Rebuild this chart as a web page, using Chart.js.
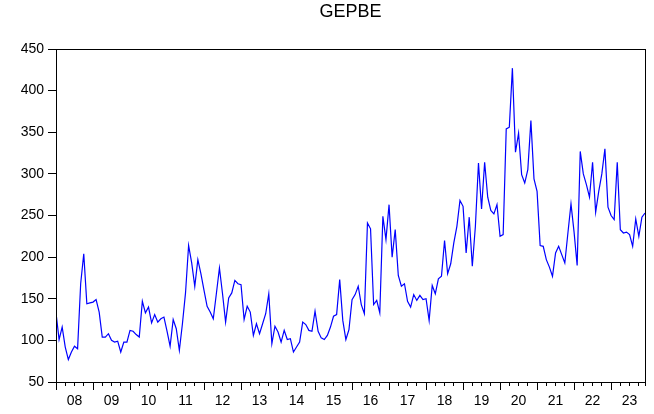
<!DOCTYPE html>
<html>
<head>
<meta charset="utf-8">
<script src="https://cdn.jsdelivr.net/npm/chart.js@4"></script>
<style>
  html, body { margin: 0; padding: 0; background: #fff; }
  #wrap { width: 654px; height: 414px; }
</style>
</head>
<body>
<div id="wrap"><canvas id="gepbe" width="654" height="414"></canvas></div>
<script>
// Monthly values, Jan 2008 .. Dec 2023
const gepbe2008 = [133, 101, 116, 92, 77, 86, 93, 90, 168, 204, 144, 145];
const gepbe2009 = [146, 149, 134, 104, 104, 108, 100, 98, 99, 86, 98, 98];
const gepbe2010 = [112, 111, 107, 104, 147, 133, 140, 121, 131, 122, 126, 128];
const gepbe2011 = [111, 93, 125, 114, 88, 120, 157, 214, 193, 165, 197, 180];
const gepbe2012 = [160, 141, 134, 126, 156, 187, 156, 122, 151, 157, 172, 168];
const gepbe2013 = [167, 125, 141, 134, 106, 120, 108, 120, 132, 156, 96, 117];
const gepbe2014 = [110, 98, 112, 101, 102, 86, 92, 98, 122, 119, 112, 111];
const gepbe2015 = [135, 111, 103, 101, 106, 116, 129, 131, 173, 124, 101, 113];
const gepbe2016 = [149, 155, 165, 143, 132, 241, 234, 143, 148, 133, 249, 221];
const gepbe2017 = [263, 200, 233, 178, 165, 168, 147, 140, 155, 148, 154, 149];
const gepbe2018 = [150, 124, 166, 156, 174, 177, 220, 180, 192, 217, 237, 268];
const gepbe2019 = [261, 205, 248, 189, 237, 313, 258, 314, 272, 256, 252, 263];
const gepbe2020 = [225, 227, 354, 356, 427, 326, 349, 299, 289, 305, 364, 294];
const gepbe2021 = [279, 214, 213, 197, 188, 177, 205, 213, 203, 193, 229, 264];
const gepbe2022 = [230, 190, 327, 300, 287, 272, 314, 254, 279, 300, 330, 260];
const gepbe2023 = [250, 245, 314, 233, 229, 230, 227, 213, 246, 225, 248, 253];

const yearLabels = ["08", "09", "10", "11", "12", "13", "14", "15",
                    "16", "17", "18", "19", "20", "21", "22", "23"];
const yTicks = [50, 100, 150, 200, 250, 300, 350, 400, 450];

const values = [].concat(
  gepbe2008, gepbe2009, gepbe2010, gepbe2011, gepbe2012, gepbe2013,
  gepbe2014, gepbe2015, gepbe2016, gepbe2017, gepbe2018, gepbe2019,
  gepbe2020, gepbe2021, gepbe2022, gepbe2023
);
const lastMonth = values.length - 1;

// quarter ticks (short) and January ticks (long) along the bottom
const quarterTicks = [];
for (let m = 0; m <= lastMonth; m += 3) quarterTicks.push(m);
quarterTicks.push(lastMonth);
const yearTicks = yearLabels.map((_, i) => i * 12);

const font = { family: "Arial, 'Liberation Sans', sans-serif", size: 14 };

// box round the plot area
const framePlugin = {
  id: "frame",
  afterDraw(chart) {
    const { ctx, chartArea: a } = chart;
    ctx.save();
    ctx.strokeStyle = "#000";
    ctx.lineWidth = 1;
    ctx.strokeRect(Math.round(a.left) + 0.5, Math.round(a.top) + 0.5,
                   Math.round(a.right - a.left), Math.round(a.bottom - a.top));
    ctx.restore();
  },
};

new Chart(document.getElementById("gepbe"), {
  type: "line",
  data: {
    datasets: [
      {
        label: "GEPBE",
        xAxisID: "x",
        data: values.map((v, i) => ({ x: i, y: v })),
        borderColor: "#0000ff",
        borderWidth: 1.2,
        pointRadius: 0,
        tension: 0,
        fill: false,
      },
    ],
  },
  options: {
    responsive: false,
    animation: false,
    layout: { padding: { left: 0, right: 9, top: 0, bottom: 0 } },
    plugins: {
      legend: { display: false },
      tooltip: { enabled: false },
      title: {
        display: true,
        text: "GEPBE",
        color: "#000",
        fullSize: false,
        font: { family: font.family, size: 18, weight: "normal" },
        padding: { top: 1, bottom: 26.4 },
      },
    },
    scales: {
      // long January ticks, no labels, sits right on the plot bottom
      xYears: {
        type: "linear",
        position: "bottom",
        weight: 0,
        min: 0,
        max: lastMonth,
        afterBuildTicks: (scale) => {
          scale.ticks = yearTicks.map((v) => ({ value: v }));
        },
        afterFit: (scale) => {
          scale.height = 0;
        },
        grid: {
          drawOnChartArea: false,
          tickLength: 8,
          tickColor: "#000",
        },
        border: { display: false },
        ticks: { display: false },
      },
      x: {
        type: "linear",
        position: "bottom",
        weight: 1,
        min: 0,
        max: lastMonth,
        afterBuildTicks: (scale) => {
          scale.ticks = quarterTicks.map((v) => ({ value: v }));
        },
        afterFit: (scale) => {
          scale.height = 32;
        },
        grid: {
          drawOnChartArea: false,
          tickLength: 4,
          tickColor: "#000",
        },
        border: { display: true, color: "#000", width: 1 },
        ticks: {
          autoSkip: false,
          maxRotation: 0,
          padding: 7,
          color: "#000",
          font,
          callback: (v) => (v % 12 === 6 ? yearLabels[(v - 6) / 12] : ""),
        },
      },
      y: {
        min: 50,
        max: 450,
        afterBuildTicks: (scale) => {
          scale.ticks = yTicks.map((v) => ({ value: v }));
        },
        afterFit: (scale) => {
          scale.width = 56;
        },
        grid: {
          drawOnChartArea: false,
          tickLength: 8,
          tickColor: "#000",
        },
        border: { display: true, color: "#000", width: 1 },
        ticks: { padding: 4, color: "#000", font },
      },
    },
  },
  plugins: [framePlugin],
});
</script>
</body>
</html>
